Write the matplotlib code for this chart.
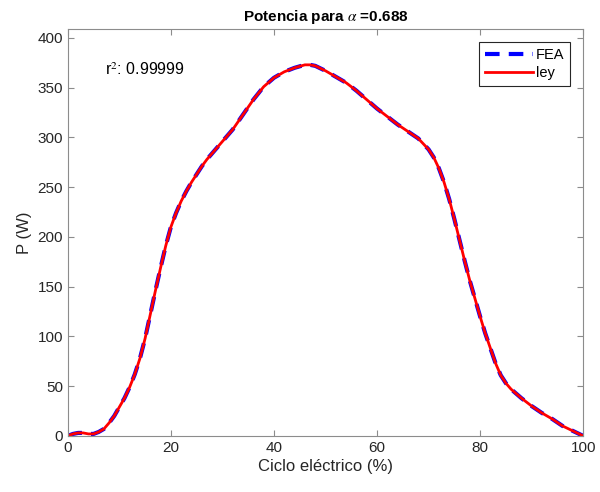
import numpy as np
import matplotlib
matplotlib.use("Agg")
import matplotlib.pyplot as plt

plt.rcParams['font.family'] = ['Liberation Sans', 'DejaVu Sans']
plt.rcParams['mathtext.fontset'] = 'stix'

# electrical cycle (%) and power (W)
ciclo = [0, 1, 2, 3, 4, 5, 6, 7, 8, 9, 10, 11, 12, 13, 14, 15, 16, 17, 18, 19,
         20, 21, 22, 23, 24, 25, 26, 27, 28, 30, 32, 34, 36, 38, 40, 42, 44, 46,
         47, 48, 50, 52, 54, 56, 58, 60, 62, 64, 66, 68, 70, 71, 72, 73, 74, 75,
         76, 77, 78, 79, 80, 81, 82, 83, 84, 85, 86, 88, 90, 92, 94, 96, 98, 100]
p_fea = [0, 2, 3, 3, 2, 2, 4, 7, 13, 20, 29, 38, 49, 62, 78, 98, 122, 146, 169, 191,
         210, 224, 236, 246, 255, 263, 271, 278, 284, 296, 308, 323, 338, 351, 360, 366, 370, 373,
         373, 372, 367, 361, 355, 347, 338, 329, 321, 313, 306, 299, 288, 280, 269, 255, 238, 218,
         197, 176, 156, 138, 120, 103, 88, 73, 61, 53, 47, 38, 30, 23, 17, 10, 5, 0]
p_ley = list(p_fea)
alpha = 0.688
r2 = 0.99999

fig = plt.figure(figsize=(6.0, 4.92), dpi=100)
ax = fig.add_axes([0.113, 0.114, 0.859, 0.827])

ax.plot(ciclo, p_fea, color='#0000ff', ls=(0, (3.5, 2.2)), lw=3.0, label='FEA')
ax.plot(ciclo, p_ley, color='#ff0000', lw=2.0, label='ley')

ax.set_xlim(0, 100)
ax.set_ylim(0, 409)
ax.set_xticks(range(0, 101, 20))
ax.set_yticks(range(0, 401, 50))

axcol = '#262626'
for s in ax.spines.values():
    s.set_color('#8c8c8c')
    s.set_linewidth(0.8)
ax.tick_params(direction='in', top=True, right=True, length=4, width=0.8,
               color='#8c8c8c', labelcolor=axcol, labelsize=11)

ax.set_xlabel('Ciclo eléctrico (%)', fontsize=12, color=axcol, labelpad=3)
ax.set_ylabel('P (W)', fontsize=12, color=axcol, labelpad=4)
ax.set_title(r'Potencia para $\alpha$ =' + f'{alpha}', fontsize=11,
             fontweight='bold', pad=6)

ax.text(7.2, 368, r'r$^2$: ' + f'{r2}', fontsize=11.5, color='black', va='center')

leg = ax.legend(loc='upper right', fontsize=10.5, handlelength=3.3,
                borderpad=0.4, labelspacing=0.3, handletextpad=0.2,
                fancybox=False, framealpha=1, borderaxespad=0.9)
leg.get_frame().set_edgecolor(axcol)
leg.get_frame().set_linewidth(0.8)

fig.savefig('out.png', dpi=100)
